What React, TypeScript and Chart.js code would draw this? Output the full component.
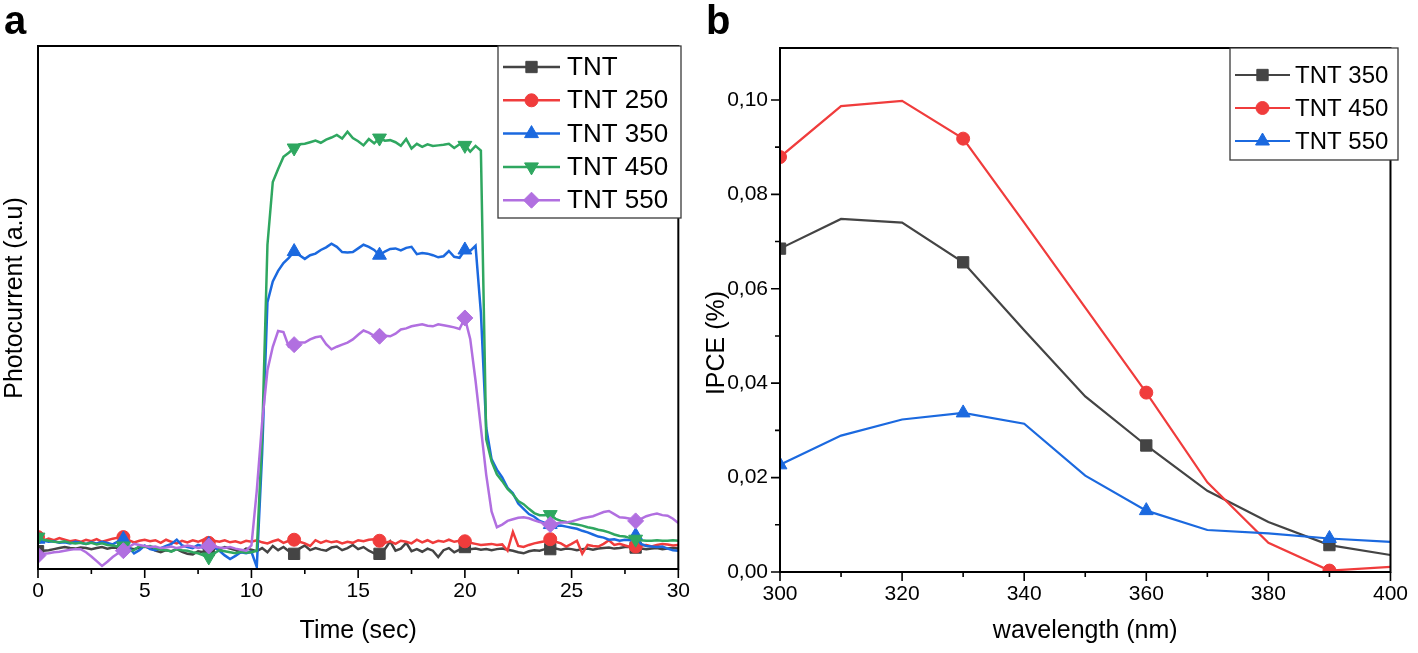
import React, { useEffect, useRef } from 'react';
import { Chart, registerables } from 'chart.js';

Chart.register(...registerables);

const FONT = "'Liberation Sans', Arial, Helvetica, sans-serif";

// ---------------- Panel a : photocurrent vs time ----------------
const TIME = [0,0.25,0.5,0.75,1,1.25,1.5,1.75,2,2.25,2.5,2.75,3,3.25,3.5,3.75,4,4.25,4.5,4.75,5,5.25,5.5,5.75,6,6.25,6.5,6.75,7,7.25,7.5,7.75,8,8.25,8.5,8.75,9,9.25,9.5,9.75,10,10.25,10.5,10.75,11,11.25,11.5,11.75,12,12.25,12.5,12.75,13,13.25,13.5,13.75,14,14.25,14.5,14.75,15,15.25,15.5,15.75,16,16.25,16.5,16.75,17,17.25,17.5,17.75,18,18.25,18.5,18.75,19,19.25,19.5,19.75,20,20.25,20.5,20.75,21,21.25,21.5,21.75,22,22.25,22.5,22.75,23,23.25,23.5,23.75,24,24.25,24.5,24.75,25,25.25,25.5,25.75,26,26.25,26.5,26.75,27,27.25,27.5,27.75,28,28.25,28.5,28.75,29,29.25,29.5,29.75,30];

const TNT = [3.4,
  3.5,3.6,3.8,4.0, 4.2,4.0,3.9,4.1, 4.0,3.8,4.0,4.2, 3.9,4.1,4.0,4.3, 4.0,3.8,4.1,4.3,
  4.0,3.5,3.2,3.6, 3.4,3.8,3.3,2.9, 2.8,3.4,3.2,3.6, 4.0,3.8,4.2,3.9, 3.6,3.2,3.9,3.7,
  3.4,4.0,3.2,4.4, 3.6,4.2,3.4,2.9, 3.9,4.5,3.6,4.0, 3.7,3.5,4.1,4.3, 3.6,4.0,4.6,3.8,
  4.2,3.5,3.0,2.9, 3.8,5.3,3.5,3.9, 5.0,3.4,3.8,3.3, 3.9,3.5,2.3,3.6, 4.0,3.2,3.7,4.2,
  3.8,3.9,3.7,3.8, 3.6,3.8,3.9,3.7, 3.5,3.2,3.0,3.4, 3.6,3.5,3.8,3.8, 3.9,3.7,3.9,3.8,
  3.6,3.8,3.9,3.7, 3.9,4.0,4.1,3.9, 4.0,4.2,4.2,4.1, 3.9,3.8,3.9,4.0, 3.8,3.9,4.0,3.9];

const TNT250 = [6.1,
  5.4,5.8,5.5,5.9, 5.6,5.3,5.5,5.2, 5.6,5.3,5.7,5.2, 5.5,5.8,6.0,6.1, 5.5,5.1,5.4,5.6,
  5.3,5.5,5.0,5.6, 5.2,4.9,5.4,5.1, 5.5,5.2,5.6,5.0, 5.4,5.2,5.5,5.1, 5.3,5.0,5.4,5.2,
  5.5,5.1,4.9,5.3, 5.6,5.0,5.4,5.6, 5.2,4.9,4.4,5.5, 5.0,5.4,5.1,5.3, 4.9,5.2,5.0,5.5,
  5.3,5.6,5.7,5.4, 5.0,5.3,4.8,5.4, 5.2,4.9,5.6,5.1, 5.5,5.0,5.4,5.2, 5.6,5.2,5.4,5.3,
  5.0,4.8,4.6,4.7, 4.8,4.6,4.7,3.5, 7.1,4.4,4.2,4.6, 4.9,5.1,5.3,5.7, 5.2,4.9,4.3,4.8,
  5.4,2.9,4.6,4.4, 4.3,4.8,5.5,4.6, 4.8,4.5,4.2,4.3, 4.5,4.6,4.3,4.6, 4.8,4.7,4.5,4.6];

const TNT350 = [5.7,
  5.4,5.2,5.3,5.0, 5.1,4.9,5.2,5.0, 4.8,5.1,4.9,5.2, 5.0,4.7,5.3,5.7, 4.2,3.0,3.6,4.5,
  3.8,3.6,4.0,4.4, 4.8,5.6,4.5,4.2, 4.0,4.6,4.3,4.7, 4.2,3.5,2.6,1.9, 2.5,3.2,3.0,3.3,
  0.4,22,51,55, 57,58.5,59.5,60.7, 60.0,59.3,60.0,60.3, 61.0,61.5,62.2,61.6, 60.6,60.5,60.6,61.3,
  62.0,61.6,61.0,60.0, 60.7,61.2,61.3,60.9, 61.4,61.6,60.2,60.4, 60.3,60.0,59.6,59.8, 60.8,59.7,59.5,61.0,
  60.8,61.8,49,27, 21.0,19.0,17.5,15.5, 14.5,12.5,11.5,10.5, 10.0,9.2,8.8,8.5, 8.2,8.3,8.1,7.9,
  7.7,7.3,7.0,6.6, 6.2,6.0,5.6,5.7, 5.4,5.6,5.5,6.4, 4.8,4.4,4.3,4.2, 4.3,3.9,3.6,3.5];

const TNT450 = [6.1,
  5.6,5.4,5.2,5.1, 5.3,5.0,4.9,5.0, 4.8,5.0,4.7,4.9, 4.6,4.5,4.3,4.4, 3.4,3.6,4.4,4.2,
  4.4,4.0,3.7,3.6, 3.3,3.8,3.6,3.5, 3.2,3.0,2.6,2.3, 3.0,3.6,3.4,3.2, 3.0,3.3,3.1,3.2,
  3.5,25,62,74, 76.5,78.8,79.6,80.5, 81.2,81.3,81.6,81.9, 81.5,82.1,82.5,83.0, 82.3,83.6,82.4,81.8,
  81.0,82.2,81.4,82.4, 81.9,82.0,81.6,80.9, 82.2,80.4,81.3,80.7, 81.2,80.9,81.0,81.1, 81.3,80.5,81.2,81.0,
  79.8,80.9,80.0,24.8, 20.6,18.1,16.8,15.3, 14.3,13.0,12.4,11.5, 10.7,10.3,10.3,10.4, 9.6,9.2,9.0,8.7,
  8.5,8.3,8.0,7.8, 7.5,7.3,7.0,6.6, 6.3,6.2,5.9,5.7, 5.5,5.4,5.4,5.5, 5.4,5.4,5.5,5.4];

const TNT550 = [2.6,
  2.9,3.0,3.2,3.3, 3.5,3.7,3.8,3.8, 3.2,2.4,1.5,0.6, 1.4,2.3,3.0,3.5, 4.2,4.8,4.6,4.4,
  4.2,4.3,4.0,4.1, 4.3,4.0,4.2,4.5, 4.3,4.0,4.2,4.4, 4.3,4.1,4.0,4.2, 3.9,3.7,3.5,4.5,
  15,28,38,42.5, 45.5,45.3,42.5,42.9, 43.3,43.3,43.9,44.3, 44.5,43.0,42.0,42.5, 42.9,43.3,43.9,44.8,
  45.6,45.2,44.6,44.5, 44.6,44.5,45.0,45.8, 46.0,46.4,46.6,46.8, 46.5,46.4,46.8,46.6, 46.4,46.2,45.9,48.0,
  44.0,36.0,27.0,18.0, 11.0,8.0,8.5,9.2, 9.5,9.8,9.9,9.7, 9.3,9.0,8.6,8.5, 8.7,8.9,8.9,9.1,
  9.4,9.7,9.9,10.1, 10.5,10.9,11.1,10.5, 9.9,9.8,9.6,9.2, 9.6,10.1,10.4,10.6, 10.3,10.2,9.6,8.8];

const TIME_TICKS = [0, 5, 10, 15, 20, 25, 30];
const TIME_MARKERS = [0, 4, 8, 12, 16, 20, 24, 28];
const LABELS_A = ['TNT', 'TNT 250', 'TNT 350', 'TNT 450', 'TNT 550'];

// ---------------- Panel b : IPCE vs wavelength ----------------
const WAVELENGTH = [300, 310, 320, 330, 340, 350, 360, 370, 380, 390, 400];
const IPCE_350 = [0.0685, 0.0748, 0.0740, 0.0656, 0.0512, 0.0372, 0.0268, 0.0172, 0.0106, 0.0057, 0.0036];
const IPCE_450 = [0.0879, 0.0987, 0.0998, 0.0918, 0.0740, 0.0560, 0.0380, 0.0190, 0.0062, 0.0003, 0.0011];
const IPCE_550 = [0.0227, 0.0289, 0.0323, 0.0337, 0.0314, 0.0204, 0.0130, 0.0089, 0.0082, 0.0071, 0.0064];
const WL_TICKS = [300, 320, 340, 360, 380, 400];
const WL_MARKERS = [300, 330, 360, 390];
const IPCE_TICKS = [0, 0.02, 0.04, 0.06, 0.08, 0.10];
const LABELS_B = ['TNT 350', 'TNT 450', 'TNT 550'];

// ---------------- styles ----------------
const GRAY = '#444444';
const RED = '#f03c3c';
const BLUE = '#1b69df';
const GREEN = '#2fa760';
const PURPLE = '#b16fe0';

const TICK_SIZE = 21;
const TITLE_SIZE = 25;

type Marker = 'rect' | 'circle' | 'triangle' | 'triangleDown' | 'diamond';

function markerToChart(m: Marker) {
  switch (m) {
    case 'rect': return { pointStyle: 'rect', rot: 0 };
    case 'circle': return { pointStyle: 'circle', rot: 0 };
    case 'triangle': return { pointStyle: 'triangle', rot: 0 };
    case 'triangleDown': return { pointStyle: 'triangle', rot: 180 };
    default: return { pointStyle: 'rectRot', rot: 0 };
  }
}

function drawMarker(ctx: CanvasRenderingContext2D, m: Marker, x: number, y: number, r: number, color: string) {
  ctx.save();
  ctx.fillStyle = color;
  ctx.strokeStyle = color;
  ctx.lineWidth = 1;
  ctx.beginPath();
  if (m === 'rect') {
    const s = r * Math.SQRT1_2;
    ctx.rect(x - s, y - s, 2 * s, 2 * s);
  } else if (m === 'circle') {
    ctx.arc(x, y, r, 0, Math.PI * 2);
  } else if (m === 'triangle' || m === 'triangleDown') {
    let rad = m === 'triangle' ? 0 : Math.PI;
    ctx.moveTo(x + Math.sin(rad) * r, y - Math.cos(rad) * r);
    rad += (2 * Math.PI) / 3;
    ctx.lineTo(x + Math.sin(rad) * r, y - Math.cos(rad) * r);
    rad += (2 * Math.PI) / 3;
    ctx.lineTo(x + Math.sin(rad) * r, y - Math.cos(rad) * r);
  } else {
    ctx.moveTo(x - r, y);
    ctx.lineTo(x, y - r);
    ctx.lineTo(x + r, y);
    ctx.lineTo(x, y + r);
  }
  ctx.closePath();
  ctx.fill();
  ctx.stroke();
  ctx.restore();
}

type SeriesDef = { label: string; color: string; marker: Marker; radius: number; xs: number[]; ys: number[]; markAt: number[] };

function makeDataset(s: SeriesDef, idx: number, total: number, width: number) {
  const mc = markerToChart(s.marker);
  return {
    label: s.label,
    data: s.xs.map((x, i) => ({ x, y: s.ys[i] })),
    borderColor: s.color,
    backgroundColor: s.color,
    borderWidth: width,
    pointStyle: mc.pointStyle,
    pointRotation: mc.rot,
    pointBackgroundColor: s.color,
    pointBorderColor: s.color,
    pointBorderWidth: 1,
    pointRadius: (ctx: any) => (s.markAt.includes(s.xs[ctx.dataIndex]) ? s.radius : 0),
    pointHoverRadius: 0,
    tension: 0,
    order: total - idx,
    _marker: s.marker,
    _radius: s.radius,
  };
}

function framePlugin(cfg: { xMajor: number[]; yMajor?: number[] }) {
  return {
    id: 'frameTicks',
    afterDatasetsDraw(chart: any) {
      const { ctx, chartArea: ca, scales } = chart;
      ctx.save();
      ctx.strokeStyle = '#000';
      ctx.lineWidth = 2;
      ctx.strokeRect(ca.left, ca.top, ca.right - ca.left, ca.bottom - ca.top);
      ctx.lineWidth = 1.6;
      const xs = cfg.xMajor;
      ctx.beginPath();
      for (let i = 0; i < xs.length; i++) {
        const px = scales.x.getPixelForValue(xs[i]);
        ctx.moveTo(px, ca.bottom);
        ctx.lineTo(px, ca.bottom + 9);
        if (i < xs.length - 1) {
          const pm = scales.x.getPixelForValue((xs[i] + xs[i + 1]) / 2);
          ctx.moveTo(pm, ca.bottom);
          ctx.lineTo(pm, ca.bottom + 5);
        }
      }
      if (cfg.yMajor) {
        const ys = cfg.yMajor;
        for (let i = 0; i < ys.length; i++) {
          const py = scales.y.getPixelForValue(ys[i]);
          ctx.moveTo(ca.left, py);
          ctx.lineTo(ca.left - 9, py);
          if (i < ys.length - 1) {
            const pm = scales.y.getPixelForValue((ys[i] + ys[i + 1]) / 2);
            ctx.moveTo(ca.left, pm);
            ctx.lineTo(ca.left - 5, pm);
          }
        }
      }
      ctx.stroke();
      ctx.restore();
    },
  };
}

function legendPlugin(cfg: { x: number; y: number; w: number; h: number; rowY: number; rowGap: number; lineX0: number; lineX1: number; textX: number; font: string }) {
  return {
    id: 'boxLegend',
    afterDraw(chart: any) {
      const ctx: CanvasRenderingContext2D = chart.ctx;
      ctx.save();
      ctx.fillStyle = '#fff';
      ctx.fillRect(cfg.x, cfg.y, cfg.w, cfg.h);
      ctx.strokeStyle = '#3a3a3a';
      ctx.lineWidth = 1.3;
      ctx.strokeRect(cfg.x, cfg.y, cfg.w, cfg.h);
      chart.data.datasets.forEach((ds: any, i: number) => {
        const cy = cfg.rowY + i * cfg.rowGap;
        ctx.strokeStyle = ds.borderColor;
        ctx.lineWidth = ds.borderWidth;
        ctx.beginPath();
        ctx.moveTo(cfg.lineX0, cy);
        ctx.lineTo(cfg.lineX1, cy);
        ctx.stroke();
        drawMarker(ctx, ds._marker, (cfg.lineX0 + cfg.lineX1) / 2, cy, ds._radius, ds.borderColor);
        ctx.fillStyle = '#000';
        ctx.font = cfg.font;
        ctx.textBaseline = 'middle';
        ctx.textAlign = 'left';
        ctx.fillText(ds.label, cfg.textX, cy + 1);
      });
      ctx.restore();
    },
  };
}

function yTitlePlugin(cfg: { text: string; x: number; y: number; font: string }) {
  return {
    id: 'yTitle',
    afterDraw(chart: any) {
      const ctx: CanvasRenderingContext2D = chart.ctx;
      ctx.save();
      ctx.translate(cfg.x, cfg.y);
      ctx.rotate(-Math.PI / 2);
      ctx.fillStyle = '#000';
      ctx.font = cfg.font;
      ctx.textAlign = 'center';
      ctx.textBaseline = 'middle';
      ctx.fillText(cfg.text, 0, 0);
      ctx.restore();
    },
  };
}

function configA(): any {
  const series: SeriesDef[] = [
    { label: LABELS_A[0], color: GRAY, marker: 'rect', radius: 8, xs: TIME, ys: TNT, markAt: TIME_MARKERS },
    { label: LABELS_A[1], color: RED, marker: 'circle', radius: 6.5, xs: TIME, ys: TNT250, markAt: TIME_MARKERS },
    { label: LABELS_A[2], color: BLUE, marker: 'triangle', radius: 8, xs: TIME, ys: TNT350, markAt: TIME_MARKERS },
    { label: LABELS_A[3], color: GREEN, marker: 'triangleDown', radius: 8, xs: TIME, ys: TNT450, markAt: TIME_MARKERS },
    { label: LABELS_A[4], color: PURPLE, marker: 'diamond', radius: 8, xs: TIME, ys: TNT550, markAt: TIME_MARKERS },
  ];
  return {
    type: 'line',
    data: { datasets: series.map((s, i) => makeDataset(s, i, series.length, 2.5)) },
    options: {
      responsive: false,
      animation: false,
      events: [],
      layout: { padding: { top: 46, right: 19, bottom: 4, left: 0 } },
      plugins: { legend: { display: false }, tooltip: { enabled: false }, title: { display: false } },
      scales: {
        x: {
          type: 'linear',
          min: 0,
          max: 30,
          afterBuildTicks: (scale: any) => { scale.ticks = TIME_TICKS.map((v) => ({ value: v })); },
          afterFit: (scale: any) => { scale.height = 80; },
          grid: { display: false, drawTicks: false },
          border: { display: false },
          ticks: { padding: 10, color: '#000', font: { family: FONT, size: TICK_SIZE }, maxRotation: 0, autoSkip: false },
          title: { display: true, text: 'Time (sec)', color: '#000', font: { family: FONT, size: TITLE_SIZE }, padding: { top: 4, bottom: 3 } },
        },
        y: {
          type: 'linear',
          min: 0,
          max: 100,
          afterFit: (scale: any) => { scale.width = 38; },
          grid: { display: false, drawTicks: false },
          border: { display: false },
          ticks: { display: false },
          title: { display: false },
        },
      },
    },
    plugins: [
      framePlugin({ xMajor: TIME_TICKS }),
      yTitlePlugin({ text: 'Photocurrent (a.u)', x: 15, y: 298, font: `${TITLE_SIZE}px ${FONT}` }),
      legendPlugin({ x: 498, y: 46, w: 183, h: 172, rowY: 67, rowGap: 33.3, lineX0: 503, lineX1: 560, textX: 567, font: `26px ${FONT}` }),
    ],
  };
}

function configB(): any {
  const series: SeriesDef[] = [
    { label: LABELS_B[0], color: GRAY, marker: 'rect', radius: 8, xs: WAVELENGTH, ys: IPCE_350, markAt: WL_MARKERS },
    { label: LABELS_B[1], color: RED, marker: 'circle', radius: 6.5, xs: WAVELENGTH, ys: IPCE_450, markAt: WL_MARKERS },
    { label: LABELS_B[2], color: BLUE, marker: 'triangle', radius: 8, xs: WAVELENGTH, ys: IPCE_550, markAt: WL_MARKERS },
  ];
  return {
    type: 'line',
    data: { datasets: series.map((s, i) => makeDataset(s, i, series.length, 2.2)) },
    options: {
      responsive: false,
      animation: false,
      events: [],
      layout: { padding: { top: 48, right: 20, bottom: 4, left: 0 } },
      plugins: { legend: { display: false }, tooltip: { enabled: false }, title: { display: false } },
      scales: {
        x: {
          type: 'linear',
          min: 300,
          max: 400,
          afterBuildTicks: (scale: any) => { scale.ticks = WL_TICKS.map((v) => ({ value: v })); },
          afterFit: (scale: any) => { scale.height = 77; },
          grid: { display: false, drawTicks: false },
          border: { display: false },
          ticks: { padding: 10, color: '#000', font: { family: FONT, size: TICK_SIZE }, maxRotation: 0, autoSkip: false },
          title: { display: true, text: 'wavelength (nm)', color: '#000', font: { family: FONT, size: TITLE_SIZE }, padding: { top: 4, bottom: 3 } },
        },
        y: {
          type: 'linear',
          min: 0,
          max: 0.111,
          afterBuildTicks: (scale: any) => { scale.ticks = IPCE_TICKS.map((v) => ({ value: v })); },
          afterFit: (scale: any) => { scale.width = 80; },
          grid: { display: false, drawTicks: false },
          border: { display: false },
          ticks: {
            padding: 12,
            color: '#000',
            font: { family: FONT, size: TICK_SIZE },
            autoSkip: false,
            callback: (v: any) => Number(v).toFixed(2).replace('.', ','),
          },
          title: { display: false },
        },
      },
    },
    plugins: [
      framePlugin({ xMajor: WL_TICKS, yMajor: IPCE_TICKS }),
      yTitlePlugin({ text: 'IPCE (%)', x: 17, y: 343, font: `${TITLE_SIZE}px ${FONT}` }),
      legendPlugin({ x: 530, y: 48, w: 168, h: 112, rowY: 75, rowGap: 33, lineX0: 535, lineX1: 590, textX: 595, font: `24px ${FONT}` }),
    ],
  };
}

export default function App() {
  const refA = useRef<HTMLCanvasElement>(null);
  const refB = useRef<HTMLCanvasElement>(null);

  useEffect(() => {
    const a = new Chart(refA.current as HTMLCanvasElement, configA());
    const b = new Chart(refB.current as HTMLCanvasElement, configB());
    return () => {
      a.destroy();
      b.destroy();
    };
  }, []);

  return (
    <div style={{ position: 'fixed', left: 0, top: 0, width: 1418, height: 653, background: '#fff', overflow: 'hidden' }}>
      <canvas ref={refA} width={700} height={653} style={{ position: 'absolute', left: 0, top: 0, width: 700, height: 653 }} />
      <canvas ref={refB} width={718} height={653} style={{ position: 'absolute', left: 700, top: 0, width: 718, height: 653 }} />
      <div style={{ position: 'absolute', left: 4, top: 0, font: `bold 40px/40px ${FONT}`, color: '#000' }}>a</div>
      <div style={{ position: 'absolute', left: 706, top: 0, font: `bold 40px/40px ${FONT}`, color: '#000' }}>b</div>
    </div>
  );
}
